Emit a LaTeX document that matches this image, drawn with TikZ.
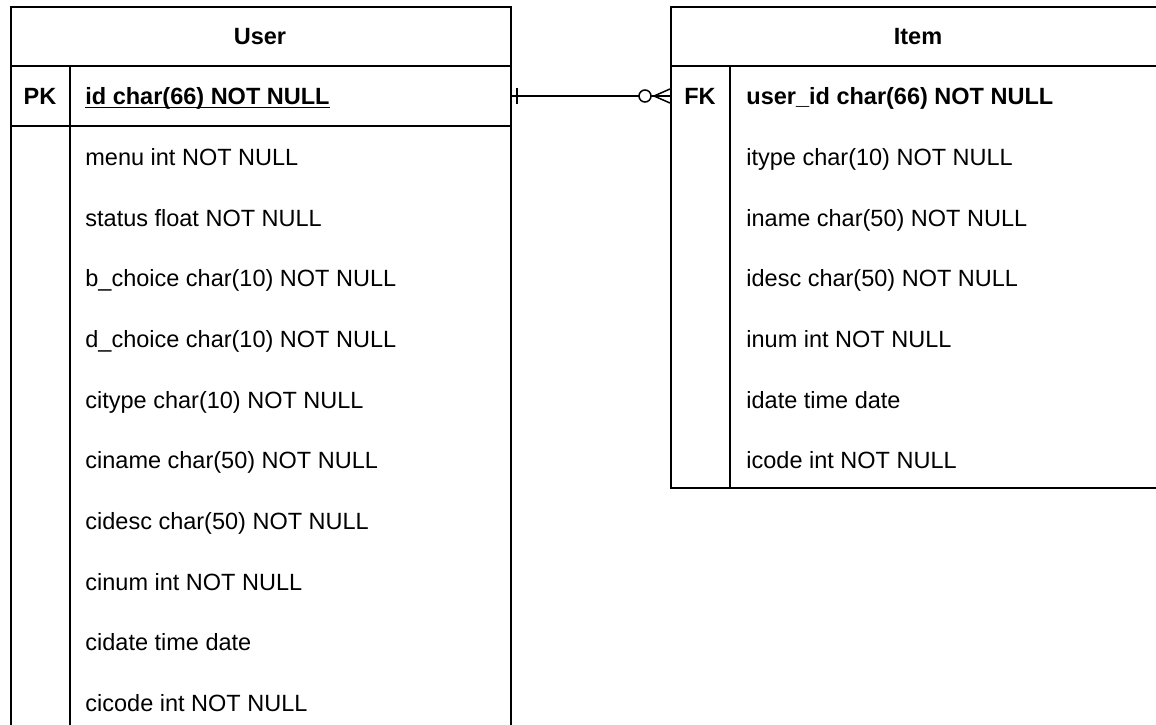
\documentclass[tikz,border=0pt]{standalone}
\usepackage{fontspec}
\setmainfont{Liberation Sans}
\begin{document}
\begin{tikzpicture}[x=0.5pt,y=-0.5pt,
  tline/.style={line width=0.9pt,draw=black},
  cell/.style={inner sep=0pt,anchor=base west,font=\fontsize{11.75pt}{14pt}\selectfont},
  keycell/.style={inner sep=0pt,anchor=base,font=\fontsize{11.75pt}{14pt}\selectfont\bfseries},
  title/.style={inner sep=0pt,anchor=base,font=\fontsize{11.75pt}{14pt}\selectfont\bfseries},
  rel/.style={line width=0.75pt,draw=black}]
\useasboundingbox (0,0) rectangle (1156,724);
\fill[white] (0,0) rectangle (1156,724);
\begin{scope}
\clip (0,0) rectangle (1156,724);
% ---------- User table ----------
\node[tline,anchor=north west,minimum width=250pt,minimum height=397pt,inner sep=0pt] (user) at (10,6) {};
\coordinate (uh1) at (10,66); \coordinate (uh2) at (510,66);
\coordinate (ur1) at (10,126); \coordinate (ur2) at (510,126);
\coordinate (ud1) at (70,66); \coordinate (ud2) at (70,800);
\draw[tline] (uh1) -- (uh2);
\draw[tline] (ur1) -- (ur2);
\draw[tline] (ud1) -- (ud2);
\node[title] (usertitle) at (260,44.5) {User};
\node[keycell] (pk) at (40,104.5) {PK};
\node[cell,font=\fontsize{11.75pt}{14pt}\selectfont\bfseries] (uid) at (85,104.5) {id char(66) NOT NULL};
\draw[line width=0.7pt] ([yshift=-1.6pt]uid.base west) -- ([yshift=-1.6pt]uid.base east);
\foreach \t [count=\i from 0] in {menu int NOT NULL,status float NOT NULL,b\_choice char(10) NOT NULL,d\_choice char(10) NOT NULL,citype char(10) NOT NULL,ciname char(50) NOT NULL,cidesc char(50) NOT NULL,cinum int NOT NULL,cidate time date,cicode int NOT NULL}
  \node[cell] (urow\i) at (85,{165.5+60.67*\i}) {\t};
% ---------- Item table ----------
\node[tline,anchor=north west,minimum width=248pt,minimum height=240.5pt,inner sep=0pt] (item) at (670,6) {};
\coordinate (ih1) at (670,66); \coordinate (ih2) at (1166,66);
\coordinate (id1) at (730,66); \coordinate (id2) at (730,487);
\draw[tline] (ih1) -- (ih2);
\draw[tline] (id1) -- (id2);
\node[title] (itemtitle) at (918,44.5) {Item};
\node[keycell] (fk) at (700,104.5) {FK};
\node[cell,font=\fontsize{11.75pt}{14pt}\selectfont\bfseries] (iuid) at (746,104.5) {user\_id char(66) NOT NULL};
\foreach \t [count=\i from 0] in {itype char(10) NOT NULL,iname char(50) NOT NULL,idesc char(50) NOT NULL,inum int NOT NULL,idate time date,icode int NOT NULL}
  \node[cell] (irow\i) at (746,{165.5+60.67*\i}) {\t};
% ---------- relationship ----------
\coordinate (pkR) at (510,96);
\coordinate (fkL) at (670,96);
\draw[rel] (pkR) -- (fkL);
\draw[rel] ([xshift=3.5pt]pkR) ++(0,-8) -- ++(0,16);
\draw[rel,fill=white] ([xshift=-12.5pt]fkL) circle (3pt);
\draw[rel] ([xshift=-8pt]fkL) -- ([yshift=3.5pt]fkL);
\draw[rel] ([xshift=-8pt]fkL) -- ([yshift=-3.5pt]fkL);
\draw[rel] ([xshift=-8pt]fkL) -- (fkL);
\end{scope}
\end{tikzpicture}
\end{document}
